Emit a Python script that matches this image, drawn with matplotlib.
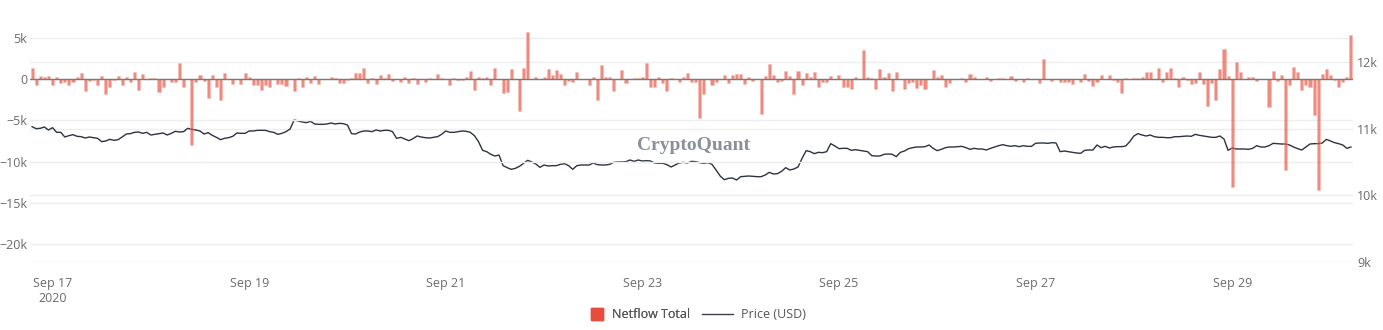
import matplotlib
matplotlib.use("Agg")
import matplotlib.pyplot as plt
import pandas as pd
from matplotlib.lines import Line2D
from matplotlib.ticker import FuncFormatter

# hourly exchange netflow (thousand BTC), starting 2020-09-16 19:00
netflow_k = [
    1.3, -0.7, 0.4, 0.25, 0.4, -0.7, 0.3, -0.5, -0.3, -0.75,
    -0.35, 0.25, 0.7, -1.4, -0.2, -0.15, -0.75, 0.35, -1.8, -1.0,
    -0.1, 0.35, -0.7, 0.25, -0.35, 0.85, -1.3, 0.65, 0.05, 0.1,
    0.15, -1.5, -0.9, 0.05, -0.4, -0.4, 2.0, -0.95, 0.05, -8.0,
    -0.4, 0.5, -0.2, -2.3, 0.5, -0.9, -2.5, 0.75, 0.05, -0.55,
    0.05, -0.55, 0.7, 0.3, -0.75, -0.75, -1.3, -0.7, -1.0, 0.05,
    -0.55, -0.55, -0.8, 0.05, -1.4, 0.15, -1.0, 0.25, -0.5, 0.35,
    -0.6, 0.05, 0.05, 0.25, 0.1, -0.5, -0.45, -0.15, 0.2, 0.7,
    0.7, 1.4,
    -0.5, 0.1, -0.55, 0.5, 0.2, 0.6, -0.2, 0.05, -0.35, 0.3,
    -0.5, 0.2, -0.55, 0.05, -0.35, 0.2, 0.05, 0.6, 0.1, 0.05,
    -0.75, 0.1, -0.1, -0.1, 0.3, 1.0, -1.35, 0.3, 0.2, 0.3,
    -0.7, 1.3, 0.05, -1.7, -1.6, 1.2, 0.05, -3.9, 1.35, 5.7,
    0.05, 0.3, 0.05, 0.25, 1.2, 0.5, 1.1, 0.6, -0.7, -0.2,
    -0.3, 0.9, 0.05, 0.05, -0.75, 0.3, -2.5, 1.75, 0.25, 0.25,
    -1.4, 0.05, 1.1, -0.45, 0.05, 0.2, 0.2, 0.3, 1.95, -1.0,
    -1.0, 0.3, -0.5, -1.4, 0.2, 0.05, -0.35, 0.3, 0.8, -0.35,
    -0.4, -4.7, -1.8, 0.05, -0.75, -0.35, 0.05, 0.45, -0.5, 0.45,
    0.65, 0.65, -0.55, 0.25, -0.25, 0.05, -4.25,
    0.4, 1.9, 0.5, -0.35, -0.2, 1.0, 0.4, -1.85, 1.0, -0.7,
    0.75, 0.25, 0.9, -1.0, -0.35, -0.3, 0.4, 0.05, 0.5, -0.9,
    -0.9, -1.15, 0.3, 0.05, 3.5, 0.25, 0.1, -1.2, 1.2, 0.3,
    0.75, -1.4, 0.9, 0.05, -1.2, -0.5, -0.4, -1.1, -0.7, -1.2,
    0.05, 1.1, 0.25, 0.5, -0.95, -0.5, 0.05, 0.05, 0.1, -0.35,
    0.65, 0.3, 0.05, 0.05, 0.25, -0.2, 0.05, 0.1, 0.1, 0.05,
    0.35, -0.2, 0.05, -0.35,
    0.2, 0.05, 0.05, -0.5, 2.4, 0.05, -0.2, 0.05, -0.3, -0.3,
    -0.3, -0.55, 0.05, -0.4, 0.65, -0.2, -0.8, -0.3, 0.55, 0.05,
    0.5, -0.1, -0.3, -1.7, 0.1, 0.05, 0.2, 0.2, 0.3, 0.9,
    0.9, 0.05, 1.4, -0.35, 0.85, 1.4, 0.15, -1.0, 0.25, -0.1,
    -0.6, -0.5, 0.85, -0.6, -3.3, -0.5, -2.55, 1.2, 3.7, 0.4,
    -13.05, 2.1, 0.9, 0.05, 0.25, 0.3, -0.2, 0.05, 0.05, -3.4,
    0.95, -0.2, 0.5, -11.0, -0.75, 1.5, 0.9, -1.35, -0.7, -0.95,
    -4.3, -13.4, 0.65, 1.2, 0.5, -0.1, -0.95, -0.35, 0.3, 5.35,
]

price_usd = [
    11030, 11000, 11005, 11025, 10980, 11015, 10945, 10945, 10875, 10895,
    10910, 10885, 10880, 10860, 10875, 10865, 10855, 10805, 10815, 10840,
    10825, 10835, 10875, 10920, 10925, 10945, 10950, 10930, 10945, 10905,
    10915, 10925, 10935, 10905, 10930, 10960, 10950, 10955, 11005, 10990,
    10980, 10965, 10920, 10940, 10900, 10870, 10835, 10855, 10865, 10885,
    10935, 10930, 10930, 10965, 10965, 10975, 10975, 10975, 10955, 10945,
    10915, 10930, 10955, 10995, 11130, 11115, 11100, 11090, 11110, 11070,
    11065, 11065, 11070, 11085, 11070, 11080, 11075, 11055, 10925, 10920,
    10950, 10965, 10965, 10955, 10980, 10965, 10975, 10975, 10955, 10855,
    10870, 10845, 10820, 10850, 10890, 10875, 10865, 10860, 10870, 10880,
    10915, 10965, 10945, 10945, 10955, 10965, 10960, 10945, 10895, 10805,
    10675, 10655, 10615, 10590, 10605, 10445, 10415, 10390, 10405, 10435,
    10480, 10525, 10500, 10470, 10420, 10455, 10440, 10445, 10445, 10465,
    10475, 10445, 10390, 10445, 10455, 10455, 10455, 10485, 10460, 10455,
    10455, 10465, 10495, 10500, 10500, 10505, 10530, 10510, 10530, 10515,
    10520, 10515, 10485, 10480, 10480, 10460, 10425, 10455, 10485, 10495,
    10485, 10510, 10505, 10490, 10480, 10490, 10465, 10380, 10290, 10235,
    10255, 10260, 10230, 10280, 10285, 10290, 10285, 10280, 10280, 10305,
    10345, 10320, 10325, 10360, 10415, 10380, 10395, 10425, 10555, 10670,
    10655, 10625, 10645, 10640, 10655, 10775, 10740, 10700, 10705, 10705,
    10675, 10685, 10675, 10665, 10655, 10595, 10590, 10590, 10615, 10620,
    10615, 10580, 10645, 10665, 10700, 10715, 10725, 10725, 10730, 10755,
    10705, 10670, 10690, 10715, 10725, 10725, 10730, 10735, 10715, 10690,
    10705, 10695, 10695, 10680, 10705, 10725, 10745, 10760, 10745, 10735,
    10745, 10730, 10745, 10735, 10735, 10780, 10785, 10785, 10780, 10790,
    10785, 10655, 10665, 10655, 10645, 10635, 10630, 10675, 10680, 10680,
    10755, 10715, 10735, 10710, 10725, 10730, 10730, 10740, 10805, 10890,
    10925, 10905, 10890, 10905, 10880, 10870, 10870, 10865, 10865, 10880,
    10880, 10885, 10890, 10885, 10915, 10900, 10890, 10880, 10870, 10870,
    10890, 10845, 10675, 10710, 10695, 10695, 10695, 10690, 10705, 10745,
    10725, 10725, 10745, 10780, 10775, 10770, 10770, 10755, 10725, 10700,
    10680, 10725, 10770, 10775, 10775, 10785, 10840, 10815, 10790, 10775,
    10755, 10705, 10725,
]

tick_days = ["2020-09-17", "2020-09-19", "2020-09-21", "2020-09-23",
             "2020-09-25", "2020-09-27", "2020-09-29"]
tick_labels = ["Sep 17\n2020", "Sep 19", "Sep 21", "Sep 23",
               "Sep 25", "Sep 27", "Sep 29"]

plt.rcParams["font.family"] = ["Open Sans", "DejaVu Sans"]
text_gray = "#6b6b6b"
grid_col = "#eeeeee"

times = pd.date_range("2020-09-16 19:00", periods=len(netflow_k), freq="h")
hour = pd.Timedelta(hours=1)

fig = plt.figure(figsize=(13.83, 3.3), dpi=100)
ax_price = fig.add_axes([30 / 1383, 68 / 330, 1323 / 1383, 234 / 330])
ax_flow = ax_price.twinx()

ax_price.plot(times, price_usd, color="#2d3340", lw=1.0)
ax_price.set_ylim(9000, 12510)
ax_price.set_yticks([9000, 10000, 11000, 12000])
ax_price.yaxis.set_major_formatter(FuncFormatter(lambda v, p: f"{v / 1000:g}k"))
ax_price.grid(axis="y", color=grid_col, lw=1)
ax_price.set_axisbelow(True)

ax_flow.bar(times, netflow_k, width=0.75 / 24, color="#e74c3c", alpha=0.65,
            edgecolor="#f6b3aa", linewidth=0.4, zorder=3)
ax_flow.axhline(0, color="#7a7a7a", lw=1, zorder=4)
ax_flow.set_ylim(-22.18, 6.21)
ax_flow.set_yticks([-20, -15, -10, -5, 0, 5])


def k_fmt(v, pos):
    if v == 0:
        return "0"
    return f"{v:g}k".replace("-", "\u2212")


ax_flow.yaxis.set_major_formatter(FuncFormatter(k_fmt))
ax_flow.grid(axis="y", color=grid_col, lw=1, zorder=0)

ax_flow.yaxis.tick_left()
ax_price.yaxis.tick_right()

ax_price.set_xlim(times[0] - hour / 2, times[-1] + hour / 2)
ax_price.set_xticks(pd.to_datetime(tick_days))
ax_price.set_xticklabels(tick_labels)

for a in (ax_price, ax_flow):
    for s in a.spines.values():
        s.set_visible(False)
    a.tick_params(length=0, labelsize=9, labelcolor=text_gray)
ax_price.tick_params(axis="x", pad=11)
ax_flow.tick_params(axis="y", pad=2)
ax_price.tick_params(axis="y", pad=3)

fig.text(693 / 1383, 1 - 146 / 330, "CryptoQuant", ha="center", va="center",
         fontsize=14, fontweight="bold", color="#8a8f99",
         family=["Liberation Serif", "DejaVu Serif"])

leg_y = 1 - 315 / 330
flow_leg = fig.legend(
    [Line2D([], [], marker="s", linestyle="none", markersize=9,
            markerfacecolor="#e74c3c", markeredgecolor="#e74c3c")],
    ["Netflow Total"], loc="center left", bbox_to_anchor=(591 / 1383, leg_y),
    frameon=False, fontsize=9, labelcolor="#555555", handlelength=1.0,
    handletextpad=0.7, borderpad=0, borderaxespad=0)
fig.add_artist(flow_leg)
fig.legend(
    [Line2D([], [], color="#3a3f4a", lw=1)], ["Price (USD)"],
    loc="center left", bbox_to_anchor=(702 / 1383, leg_y), frameon=False,
    fontsize=9, labelcolor="#555555", handlelength=2.5, handletextpad=0.6,
    borderpad=0, borderaxespad=0)

fig.savefig("out.png", dpi=100)
